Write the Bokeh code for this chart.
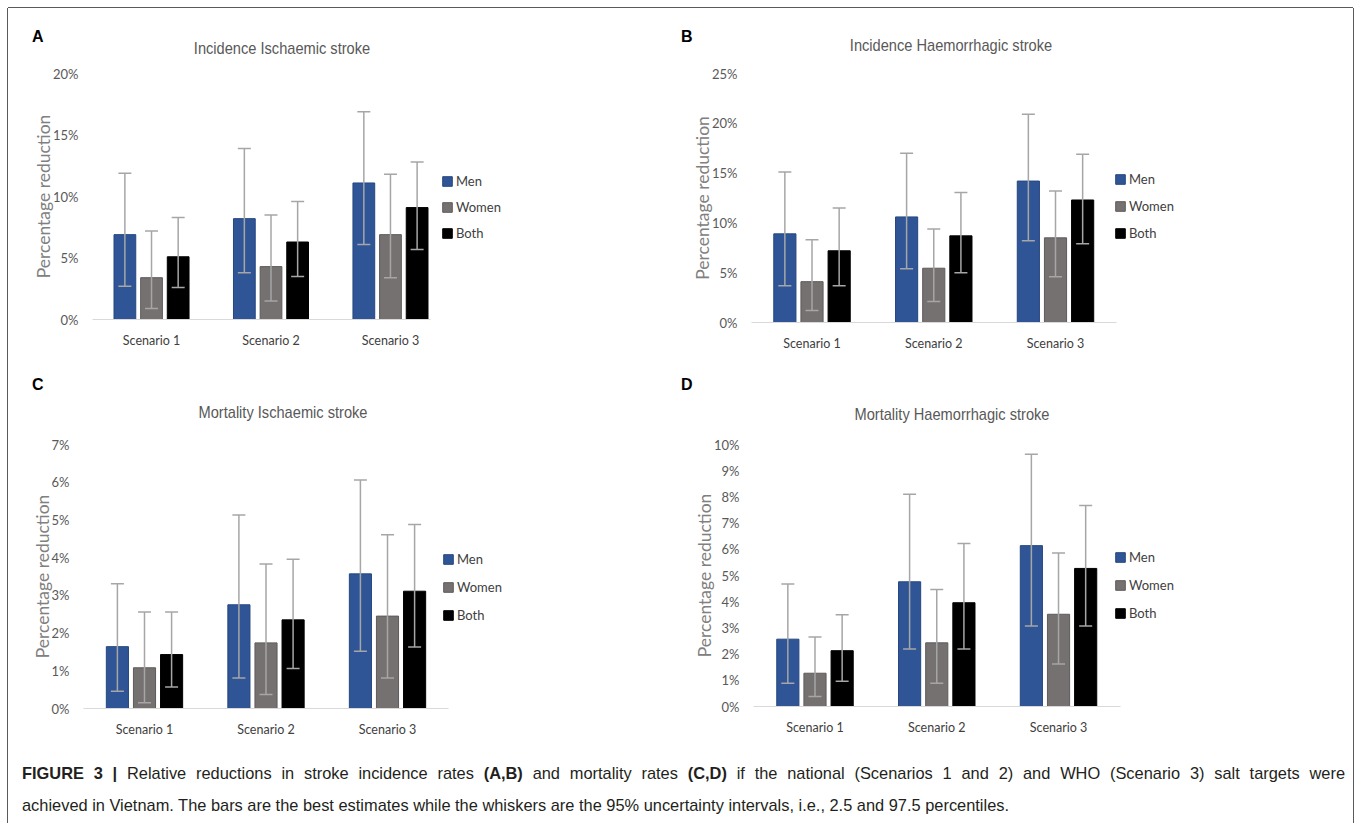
from bokeh.plotting import figure
from bokeh.models import (Range1d, FixedTicker, ColumnDataSource, Whisker, TeeHead,
                          Legend, LegendItem, Div)
from bokeh.layouts import column, row
from bokeh.embed import file_html
from bokeh.resources import INLINE

# ---------------- data (percent reduction) ----------------
scenarios = ["Scenario 1", "Scenario 2", "Scenario 3"]
series_names = ["Men", "Women", "Both"]

A_title = "Incidence Ischaemic stroke"
A_men = [6.9, 8.2, 11.1]
A_men_lo = [2.7, 3.8, 6.1]
A_men_hi = [11.9, 13.9, 16.9]
A_women = [3.4, 4.3, 6.9]
A_women_lo = [0.9, 1.5, 3.4]
A_women_hi = [7.2, 8.5, 11.8]
A_both = [5.1, 6.3, 9.1]
A_both_lo = [2.6, 3.5, 5.7]
A_both_hi = [8.3, 9.6, 12.8]
A_yticks = [0, 5, 10, 15, 20]

B_title = "Incidence Haemorrhagic stroke"
B_men = [8.9, 10.6, 14.2]
B_men_lo = [3.7, 5.4, 8.2]
B_men_hi = [15.1, 17.0, 20.9]
B_women = [4.1, 5.45, 8.5]
B_women_lo = [1.2, 2.1, 4.6]
B_women_hi = [8.3, 9.4, 13.2]
B_both = [7.2, 8.7, 12.3]
B_both_lo = [3.7, 5.0, 7.9]
B_both_hi = [11.5, 13.05, 16.9]
B_yticks = [0, 5, 10, 15, 20, 25]

C_title = "Mortality Ischaemic stroke"
C_men = [1.64, 2.75, 3.57]
C_men_lo = [0.46, 0.81, 1.52]
C_men_hi = [3.31, 5.13, 6.06]
C_women = [1.08, 1.74, 2.45]
C_women_lo = [0.15, 0.37, 0.81]
C_women_hi = [2.56, 3.83, 4.61]
C_both = [1.43, 2.35, 3.11]
C_both_lo = [0.57, 1.06, 1.63]
C_both_hi = [2.56, 3.96, 4.88]
C_yticks = [0, 1, 2, 3, 4, 5, 6, 7]

D_title = "Mortality Haemorrhagic stroke"
D_men = [2.57, 4.76, 6.14]
D_men_lo = [0.89, 2.19, 3.07]
D_men_hi = [4.68, 8.10, 9.63]
D_women = [1.27, 2.43, 3.52]
D_women_lo = [0.38, 0.89, 1.62]
D_women_hi = [2.65, 4.47, 5.86]
D_both = [2.13, 3.96, 5.27]
D_both_lo = [0.96, 2.19, 3.07]
D_both_hi = [3.50, 6.22, 7.67]
D_yticks = [0, 1, 2, 3, 4, 5, 6, 7, 8, 9, 10]

caption_line1 = ("<b>FIGURE 3 |</b> Relative reductions in stroke incidence rates <b>(A,B)</b> and mortality rates "
                 "<b>(C,D)</b> if the national (Scenarios 1 and 2) and WHO (Scenario 3) salt targets were")
caption_line2 = ("achieved in Vietnam. The bars are the best estimates while the whiskers are the 95% uncertainty "
                 "intervals, i.e., 2.5 and 97.5 percentiles.")

# ---------------- styles / layout ----------------
FILL = {"Men": "#2F5597", "Women": "#767171", "Both": "#000000"}
EDGE = {"Men": "#25477f", "Women": "#5f5b5b", "Both": "#000000"}
OFFSET = {"Men": -0.223, "Women": 0.0, "Both": 0.223}
BAR_W = 0.182
WHISK = "#A6A6A6"
CHART_FONT = "Lato"
LEGEND_ROOM = 100   # extra frame width (px) right of the axis, where the legend lives

# header rows: height, and for each panel letter (left, top) / title (center-x, top) in px
HEADERS = [
    dict(h=52, items=[("A", (24, 19), (274, 31)), ("B", (673, 19), (943, 28))]),
    dict(h=64, items=[("C", (24, 11), (275, 39)), ("D", (673, 11), (944, 41))]),
]
# figure: borders/frame sizes, x range, legend offset (from frame left / frame bottom), spacing
LAYOUT = {
    "A": dict(left=84, fw=338, right=248, top=13, fh=246, bottom=45,
              x0=-0.494, x1=2.335, legend=(349, 76), spacing=6),
    "B": dict(left=73, fw=365, right=237, top=11, fh=249, bottom=44,
              x0=-0.497, x1=2.501, legend=(363, 79), spacing=7),
    "C": dict(left=75, fw=365, right=230, top=14, fh=264, bottom=45,
              x0=-0.502, x1=2.502, legend=(359, 83), spacing=8),
    "D": dict(left=75, fw=367, right=233, top=16, fh=262, bottom=45,
              x0=-0.505, x1=2.509, legend=(361, 83), spacing=8),
}


def make_header(spec, titles):
    spans = []
    for key, (lx, ly), (tx, ty) in spec["items"]:
        spans.append(
            f'<span style="position:absolute; left:{lx}px; top:{ly}px; '
            f'font-family:\'Liberation Sans\', Arial, sans-serif; font-weight:bold; font-size:16px; '
            f'line-height:20px; color:#000;">{key}</span>')
        spans.append(
            f'<span style="position:absolute; left:{tx}px; top:{ty}px; '
            f'transform:translateX(-50%) scaleX(0.86); white-space:nowrap; '
            f'font-family:\'Liberation Sans\', Arial, sans-serif; font-size:17px; line-height:20px; '
            f'color:#595959;">{titles[key]}</span>')
    html = (f'<div style="position:relative; width:1345px; height:{spec["h"]}px;">'
            + "".join(spans) + '</div>')
    return Div(text=html, width=1345, height=spec["h"], margin=0)


def make_panel(key, yticks, series):
    L = LAYOUT[key]
    ymax = yticks[-1]
    upp = (L["x1"] - L["x0"]) / L["fw"]
    p = figure(frame_width=L["fw"] + LEGEND_ROOM, frame_height=L["fh"],
               min_border_left=L["left"], min_border_right=L["right"] - LEGEND_ROOM,
               min_border_top=L["top"], min_border_bottom=L["bottom"],
               x_range=Range1d(L["x0"], L["x1"] + LEGEND_ROOM * upp), y_range=Range1d(0, ymax),
               output_backend="svg", toolbar_location=None,
               outline_line_color=None, background_fill_color="white",
               border_fill_color="white")
    p.xgrid.visible = False
    p.ygrid.visible = False

    items = []
    for name, (vals, lo, hi) in zip(series_names, series):
        src = ColumnDataSource(dict(x=[i + OFFSET[name] for i in range(len(scenarios))],
                                    v=vals, lo=lo, hi=hi))
        r = p.vbar(x="x", top="v", bottom=0, width=BAR_W, source=src,
                   fill_color=FILL[name], line_color=EDGE[name], line_width=1)
        items.append(LegendItem(label=name, renderers=[r]))
        w = Whisker(source=src, base="x", upper="hi", lower="lo",
                    line_color=WHISK, line_width=1.5, level="annotation",
                    upper_head=TeeHead(size=13, line_color=WHISK, line_width=1.5),
                    lower_head=TeeHead(size=13, line_color=WHISK, line_width=1.5))
        p.add_layout(w)

    xa = p.xaxis[0]
    xa.bounds = (L["x0"], L["x1"])
    xa.ticker = FixedTicker(ticks=list(range(len(scenarios))))
    xa.major_label_overrides = {i: s for i, s in enumerate(scenarios)}
    xa.axis_line_color = "#D9D9D9"
    xa.axis_line_width = 1.2
    xa.major_tick_line_color = None
    xa.minor_tick_line_color = None
    xa.major_tick_out = 0
    xa.major_tick_in = 0
    xa.minor_tick_out = 0
    xa.major_label_standoff = 13
    xa.major_label_text_font = CHART_FONT
    xa.major_label_text_font_size = "12.5px"
    xa.major_label_text_color = "#404040"

    ya = p.yaxis[0]
    ya.ticker = FixedTicker(ticks=yticks)
    ya.major_label_overrides = {t: f"{t}%" for t in yticks}
    ya.axis_line_color = None
    ya.major_tick_line_color = None
    ya.minor_tick_line_color = None
    ya.major_tick_out = 0
    ya.major_tick_in = 0
    ya.minor_tick_out = 0
    ya.major_label_standoff = 14
    ya.major_label_text_font = CHART_FONT
    ya.major_label_text_font_size = "13px"
    ya.major_label_text_color = "#595959"
    ya.axis_label = "Percentage reduction"
    ya.axis_label_text_font = CHART_FONT
    ya.axis_label_text_font_size = "17.5px"
    ya.axis_label_text_font_style = "normal"
    ya.axis_label_text_color = "#808080"
    ya.axis_label_standoff = -4

    legend = Legend(items=items, location=L["legend"], orientation="vertical",
                    background_fill_alpha=0, border_line_color=None, padding=0, margin=0,
                    spacing=L["spacing"], glyph_width=12, glyph_height=12, label_height=20,
                    label_standoff=3, label_text_font=CHART_FONT,
                    label_text_font_size="13px", label_text_color="#404040")
    p.add_layout(legend)
    return p


titles = {"A": A_title, "B": B_title, "C": C_title, "D": D_title}

pA = make_panel("A", A_yticks, [(A_men, A_men_lo, A_men_hi),
                                (A_women, A_women_lo, A_women_hi),
                                (A_both, A_both_lo, A_both_hi)])
pB = make_panel("B", B_yticks, [(B_men, B_men_lo, B_men_hi),
                                (B_women, B_women_lo, B_women_hi),
                                (B_both, B_both_lo, B_both_hi)])
pC = make_panel("C", C_yticks, [(C_men, C_men_lo, C_men_hi),
                                (C_women, C_women_lo, C_women_hi),
                                (C_both, C_both_lo, C_both_hi)])
pD = make_panel("D", D_yticks, [(D_men, D_men_lo, D_men_hi),
                                (D_women, D_women_lo, D_women_hi),
                                (D_both, D_both_lo, D_both_hi)])

cap_font = "font-family:'Liberation Sans', Arial, sans-serif; font-size:16.4px; line-height:32px; color:#231f20;"
cap = Div(text=(f'<div style="box-sizing:border-box; padding:6px 8px 0 14px; width:1345px; {cap_font}">'
                f'<div style="text-align:justify; text-align-last:justify; white-space:nowrap;">{caption_line1}</div>'
                f'<div style="white-space:nowrap;">{caption_line2}</div></div>'),
          width=1345, height=72, margin=0)

page = column(make_header(HEADERS[0], titles), row(pA, pB),
              make_header(HEADERS[1], titles), row(pC, pD),
              cap,
              styles={"margin": "8px 0 0 8px",
                      "box-shadow": "-1px 0 0 0 #5a5a5a, 1px 0 0 0 #5a5a5a, 0 -1px 0 0 #5a5a5a",
                      "background": "white"})

open("out.html", "w").write(file_html(page, INLINE))
